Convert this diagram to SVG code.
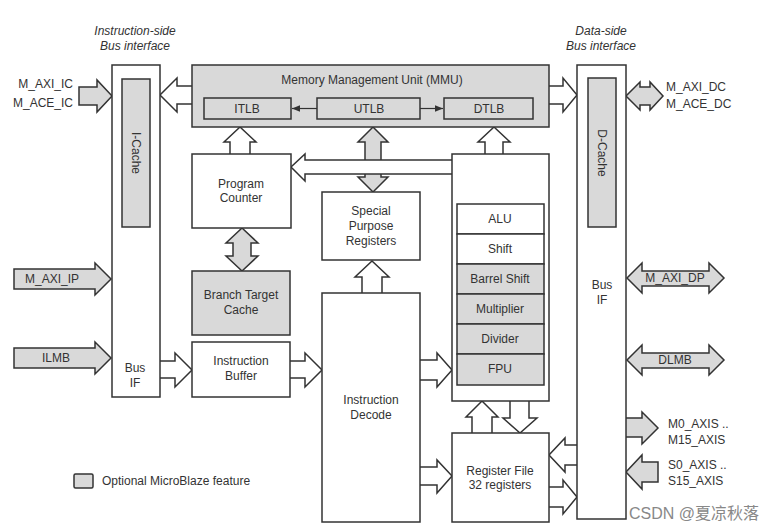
<svg xmlns="http://www.w3.org/2000/svg" width="780" height="531" viewBox="0 0 780 531">
<style>
.box{fill:#fff;stroke:#333;stroke-width:1.5}
.opt{fill:#d9d9d9;stroke:#333;stroke-width:1.5}
.ha{fill:#fff;stroke:#333;stroke-width:1.5;stroke-linejoin:miter}
.ga{fill:#d9d9d9;stroke:#333;stroke-width:1.5;stroke-linejoin:miter}
text{font-family:"Liberation Sans",Arial,sans-serif;font-size:12px;fill:#333}
.c{text-anchor:middle}
.r{text-anchor:end}
.it{font-style:italic}
.wm{font-family:"Liberation Sans","Noto Sans CJK SC",sans-serif;font-size:16px;fill:#888}
</style>
<defs>
<marker id="ah" viewBox="0 0 10 10" refX="10" refY="5" markerWidth="7" markerHeight="7" orient="auto">
<path d="M0,1 L10,5 L0,9 Z" fill="#333"/>
</marker>
</defs>

<rect width="780" height="531" fill="#fff"/>

<text class="c it" x="135" y="35">Instruction-side</text>
<text class="c it" x="135" y="50">Bus interface</text>
<text class="c it" x="601" y="35">Data-side</text>
<text class="c it" x="601" y="50">Bus interface</text>

<g id="connectors">
<path class="ga" d="M365,142 L358,142 L373,127 L388,142 L381,142 L381,177 L388,177 L373,192 L358,177 L365,177 Z"/>
<path class="ga" d="M233,243 L226,243 L242,228 L258,243 L251,243 L251,256 L258,256 L242,271 L226,256 L233,256 Z"/>
<path class="ha" d="M192,86 L177,86 L177,78 L160,95 L177,112 L177,104 L192,104"/>
<path class="ha" d="M549,86 L563,86 L563,78 L577,95 L563,112 L563,104 L549,104"/>
<path class="ga" d="M79,87 L97,87 L97,80 L112,96 L97,112 L97,105 L79,105 Z"/>
<path class="ga" d="M640,87 L650,87 L650,82 L663,96 L650,110 L650,105 L640,105 L640,110 L626,96 L640,82 Z"/>
<path class="ga" d="M642,271 L709,271 L709,263 L724,278 L709,293 L709,286 L642,286 L642,293 L627,278 L642,263 Z"/>
<path class="ga" d="M642,353 L709,353 L709,345 L724,360 L709,375 L709,368 L642,368 L642,375 L627,360 L642,345 Z"/>
<path class="ga" d="M14,269 L95,269 L95,263 L111,279 L95,295 L95,289 L14,289 Z"/>
<path class="ga" d="M14,348 L95,348 L95,342 L111,358 L95,374 L95,368 L14,368 Z"/>
<path class="ha" d="M160,361 L175,361 L175,353 L192,370 L175,387 L175,378 L160,378"/>
<path class="ha" d="M290,361 L305,361 L305,353 L322,370 L305,387 L305,378 L290,378"/>
<path class="ha" d="M230,154 L230,142 L224,142 L240,127 L256,142 L250,142 L250,154"/>
<path class="ha" d="M452,160 L305,160 L305,154 L291,167 L305,181 L305,174 L452,174"/>
<path class="ha" d="M362,293 L362,277 L355,277 L372,261 L389,277 L382,277 L382,293"/>
<path class="ha" d="M485,154 L485,142 L478,142 L494,127 L510,142 L503,142 L503,154"/>
<path class="ha" d="M420,360 L437,360 L437,353 L452,370 L437,387 L437,380 L420,380"/>
<path class="ha" d="M420,467 L437,467 L437,460 L452,476 L437,493 L437,485 L420,485"/>
<path class="ha" d="M472,433 L472,417 L466,417 L482,401 L498,417 L492,417 L492,433"/>
<path class="ha" d="M510,401 L510,418 L503,418 L520,433 L537,418 L529,418 L529,401"/>
<path class="ha" d="M577,445 L565,445 L565,438 L549,455 L565,472 L565,465 L577,465"/>
<path class="ha" d="M549,487 L563,487 L563,480 L577,497 L563,514 L563,507 L549,507"/>
<path class="ga" d="M626,418 L642,418 L642,412 L658,428 L642,444 L642,437 L626,437"/>
<path class="ga" d="M658,462 L642,462 L642,455 L626,472 L642,489 L642,482 L658,482 Z"/>
</g>

<g id="ibus">
<rect class="box" x="112" y="65" width="48" height="332"/>
<rect class="opt" x="122" y="79" width="28" height="148"/>
<text class="c" transform="translate(132,153) rotate(90)">I-Cache</text>
<text class="c" x="135" y="372">Bus</text>
<text class="c" x="135" y="387">IF</text>
</g>

<g id="dbus">
<rect class="box" x="577" y="65" width="49" height="454"/>
<rect class="opt" x="588" y="78" width="28" height="149"/>
<text class="c" transform="translate(598,153) rotate(90)">D-Cache</text>
<text class="c" x="602" y="289">Bus</text>
<text class="c" x="602" y="304">IF</text>
</g>

<g id="mmu">
<rect class="opt" x="192" y="65" width="357" height="62"/>
<text class="c" x="372" y="84">Memory Management Unit (MMU)</text>
<rect class="opt" x="204" y="98" width="87" height="21"/>
<text class="c" x="247" y="113">ITLB</text>
<rect class="opt" x="317" y="98" width="103" height="21"/>
<text class="c" x="369" y="113">UTLB</text>
<rect class="opt" x="444" y="98" width="89" height="21"/>
<text class="c" x="489" y="113">DTLB</text>
</g>

<g id="tlb-links">
<line x1="317" y1="108.5" x2="292" y2="108.5" stroke="#333" stroke-width="1.2" marker-end="url(#ah)"/>
<line x1="420" y1="108.5" x2="443" y2="108.5" stroke="#333" stroke-width="1.2" marker-end="url(#ah)"/>
</g>

<g id="pc">
<rect class="box" x="192" y="154" width="99" height="74"/>
<text class="c" x="241" y="188">Program</text>
<text class="c" x="241" y="202">Counter</text>
</g>

<g id="btc">
<rect class="opt" x="192" y="271" width="98" height="64"/>
<text class="c" x="241" y="299">Branch Target</text>
<text class="c" x="241" y="314">Cache</text>
</g>

<g id="ibuf">
<rect class="box" x="192" y="342" width="98" height="55"/>
<text class="c" x="241" y="365">Instruction</text>
<text class="c" x="241" y="380">Buffer</text>
</g>

<g id="spr">
<rect class="box" x="322" y="192" width="98" height="68"/>
<text class="c" x="371" y="215">Special</text>
<text class="c" x="371" y="230">Purpose</text>
<text class="c" x="371" y="245">Registers</text>
</g>

<g id="decode">
<rect class="box" x="322" y="293" width="98" height="229"/>
<text class="c" x="371" y="404">Instruction</text>
<text class="c" x="371" y="419">Decode</text>
</g>

<g id="exec">
<rect class="box" x="452" y="154" width="97" height="247"/>
<rect class="box" x="457" y="204" width="87" height="30"/>
<text class="c" x="500" y="223">ALU</text>
<rect class="box" x="457" y="234" width="87" height="30"/>
<text class="c" x="500" y="253">Shift</text>
<rect class="opt" x="457" y="264" width="87" height="30"/>
<text class="c" x="500" y="283">Barrel Shift</text>
<rect class="opt" x="457" y="294" width="87" height="30"/>
<text class="c" x="500" y="313">Multiplier</text>
<rect class="opt" x="457" y="324" width="87" height="30"/>
<text class="c" x="500" y="343">Divider</text>
<rect class="opt" x="457" y="354" width="87" height="31"/>
<text class="c" x="500" y="373">FPU</text>
</g>

<g id="regfile">
<rect class="box" x="452" y="433" width="97" height="89"/>
<text class="c" x="500" y="475">Register File</text>
<text class="c" x="500" y="489">32 registers</text>
</g>

<g id="labels">
<text class="r" x="73" y="88">M_AXI_IC</text>
<text class="r" x="73" y="107">M_ACE_IC</text>
<text x="666" y="91">M_AXI_DC</text>
<text x="666" y="108">M_ACE_DC</text>
<text class="c" x="52" y="283">M_AXI_IP</text>
<text class="c" x="56" y="362">ILMB</text>
<text class="c" x="675" y="282">M_AXI_DP</text>
<text class="c" x="675" y="364">DLMB</text>
<text x="668" y="428">M0_AXIS ..</text>
<text x="668" y="444">M15_AXIS</text>
<text x="668" y="469">S0_AXIS ..</text>
<text x="668" y="485">S15_AXIS</text>
</g>

<g id="legend">
<rect class="opt" x="74" y="474" width="19" height="14" rx="1.5"/>
<text x="102" y="485">Optional MicroBlaze feature</text>
</g>

<text class="wm" x="629" y="519">CSDN @夏凉秋落</text>
</svg>
